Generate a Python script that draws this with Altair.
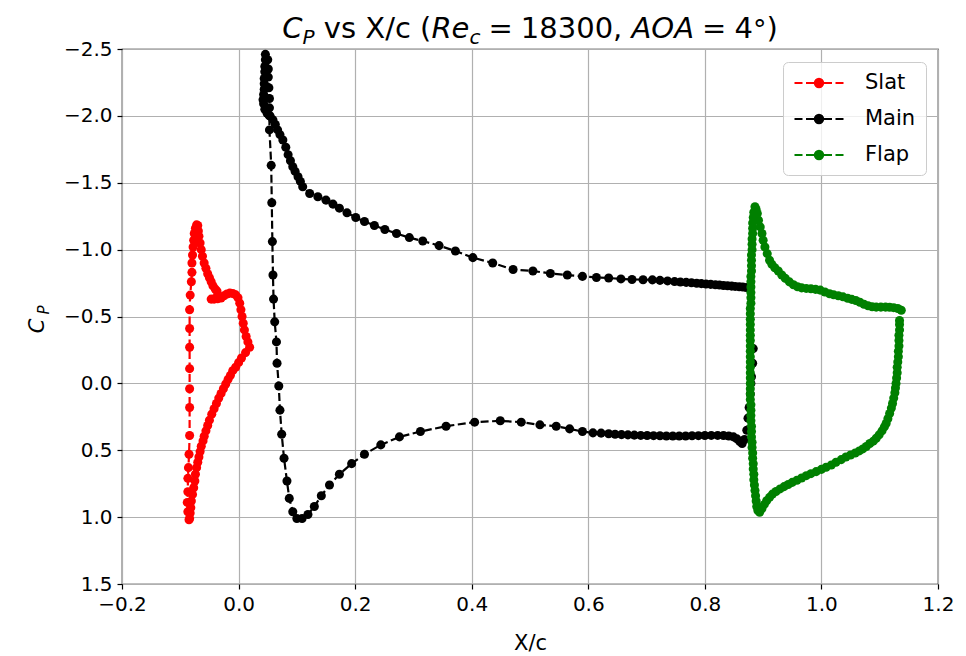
import altair as alt
import pandas as pd

# ---------------- data ----------------
series_names = ["Slat", "Main", "Flap"]
series_colors = ["#ff0000", "#000000", "#008000"]

slat_x = [-0.085, -0.087, -0.088, -0.087, -0.087, -0.086, -0.085, -0.084, -0.084, -0.084,
          -0.084, -0.084, -0.084, -0.084, -0.083, -0.081, -0.080, -0.080, -0.079, -0.078,
          -0.077, -0.076, -0.074, -0.072,
          -0.070, -0.069, -0.068, -0.066, -0.064, -0.062, -0.059, -0.056, -0.053, -0.050,
          -0.047, -0.044, -0.040, -0.037,
          -0.047, -0.042, -0.036, -0.030,
          -0.025, -0.020, -0.015, -0.010, -0.005, -0.001, 0.002, 0.004, 0.006, 0.008,
          0.010, 0.013, 0.016, 0.019,
          0.012, 0.005, 0.000, -0.005, -0.010, -0.014, -0.018, -0.022, -0.026, -0.030,
          -0.034, -0.038, -0.042, -0.046, -0.050, -0.053, -0.056, -0.059, -0.061, -0.064,
          -0.066, -0.068, -0.070, -0.072, -0.074, -0.075, -0.077, -0.079, -0.081, -0.082,
          -0.083, -0.084]
slat_cp = [1.02, 0.96, 0.89, 0.81, 0.71, 0.63, 0.53, 0.39, 0.18, 0.04,
           -0.11, -0.27, -0.41, -0.55, -0.66, -0.76, -0.83, -0.90, -0.96, -1.02,
           -1.07, -1.12, -1.16, -1.185,
           -1.18, -1.14, -1.10, -1.05, -1.00, -0.95, -0.90, -0.86, -0.82, -0.79,
           -0.76, -0.73, -0.705, -0.69,
           -0.63, -0.63, -0.632, -0.638,
           -0.655, -0.668, -0.675, -0.672, -0.662, -0.64, -0.60, -0.55, -0.50, -0.45,
           -0.40, -0.35, -0.31, -0.27,
           -0.23, -0.19, -0.155, -0.12, -0.095, -0.06, -0.03, 0.005, 0.04, 0.075,
           0.11, 0.15, 0.19, 0.23, 0.275, 0.315, 0.355, 0.395, 0.43, 0.47,
           0.51, 0.55, 0.59, 0.63, 0.68, 0.73, 0.78, 0.83, 0.88, 0.93,
           0.97, 1.01]

main_x = [0.871, 0.865, 0.859, 0.852, 0.846, 0.839, 0.832, 0.825, 0.818, 0.810,
          0.802, 0.794, 0.786, 0.777, 0.768, 0.758, 0.748, 0.736, 0.723, 0.710,
          0.694, 0.675, 0.656, 0.635, 0.614, 0.590, 0.564, 0.535, 0.505, 0.471,
          0.436, 0.402, 0.372, 0.344, 0.316, 0.293, 0.271, 0.251, 0.233, 0.216,
          0.201, 0.186, 0.173, 0.162, 0.150, 0.136, 0.122, 0.110, 0.106, 0.102,
          0.097, 0.093, 0.089, 0.085, 0.081, 0.076, 0.071, 0.067, 0.063, 0.059,
          0.054, 0.049, 0.045,
          0.043, 0.042, 0.043, 0.044, 0.044, 0.044, 0.045, 0.045, 0.046, 0.046,
          0.050, 0.051, 0.051, 0.052, 0.053, 0.053, 0.053, 0.053,
          0.056, 0.057, 0.058, 0.059, 0.060, 0.062, 0.065, 0.066, 0.069, 0.071,
          0.074, 0.078, 0.083, 0.087, 0.093, 0.100, 0.109, 0.119, 0.130, 0.142,
          0.156, 0.173, 0.194, 0.216, 0.244, 0.276, 0.312, 0.356, 0.405, 0.449,
          0.485, 0.517, 0.545, 0.568, 0.590, 0.608, 0.622, 0.635,
          0.646, 0.657, 0.668, 0.679, 0.690, 0.701, 0.712, 0.723, 0.734, 0.745,
          0.756, 0.767, 0.778, 0.789, 0.800, 0.811, 0.822, 0.832, 0.841, 0.849,
          0.855, 0.860, 0.864, 0.868, 0.872, 0.874, 0.876, 0.878, 0.879, 0.880,
          0.882, 0.883]
main_cp = [-0.717, -0.720, -0.722, -0.725, -0.727, -0.730, -0.732, -0.735, -0.737, -0.740,
           -0.743, -0.746, -0.749, -0.752, -0.755, -0.758, -0.761, -0.766, -0.770, -0.774,
           -0.775, -0.777, -0.781, -0.788, -0.792, -0.800, -0.810, -0.822, -0.840, -0.851,
           -0.900, -0.940, -0.990, -1.030, -1.064, -1.090, -1.120, -1.150, -1.180, -1.210,
           -1.240, -1.275, -1.310, -1.340, -1.370, -1.395, -1.420, -1.470, -1.510, -1.545,
           -1.585, -1.620, -1.665, -1.710, -1.765, -1.820, -1.860, -1.895, -1.935, -1.970,
           -2.000, -2.020, -2.050,
           -2.09, -2.12, -2.16, -2.20, -2.24, -2.28, -2.33, -2.37, -2.42, -2.46,
           -2.42, -2.35, -2.29, -2.21, -2.13, -2.06, -2.00, -1.895,
           -1.63, -1.35, -1.06, -0.81, -0.63, -0.46, -0.31, -0.15, 0.02, 0.20,
           0.38, 0.56, 0.73, 0.86, 0.96, 1.01, 1.01, 0.98, 0.92, 0.84,
           0.76, 0.68, 0.60, 0.53, 0.46, 0.40, 0.36, 0.32, 0.29, 0.28,
           0.29, 0.31, 0.32, 0.34, 0.36, 0.37, 0.372, 0.377,
           0.380, 0.383, 0.385, 0.387, 0.389, 0.390, 0.391, 0.392, 0.393, 0.393,
           0.393, 0.393, 0.392, 0.391, 0.390, 0.389, 0.389, 0.390, 0.393, 0.400,
           0.415, 0.435, 0.450, 0.420, 0.350, 0.260, 0.180, 0.080, 0.000, -0.050,
           -0.150, -0.260]

flap_x = [1.137, 1.131, 1.124, 1.117, 1.110, 1.102, 1.094, 1.087, 1.080, 1.073,
          1.066, 1.059, 1.052, 1.045, 1.037, 1.029, 1.021, 1.014, 1.006, 0.998,
          0.990, 0.982, 0.974, 0.966, 0.959, 0.952, 0.945, 0.938, 0.932, 0.926,
          0.920, 0.915, 0.911, 0.907, 0.903, 0.900, 0.898, 0.895, 0.892, 0.890,
          0.888, 0.886,
          0.884, 0.883, 0.882, 0.882, 0.882, 0.881, 0.881, 0.881, 0.880, 0.880,
          0.880, 0.880, 0.879, 0.879, 0.879, 0.879, 0.879, 0.879, 0.878, 0.878,
          0.878, 0.878, 0.878, 0.878, 0.878, 0.878, 0.878, 0.878, 0.878, 0.878,
          0.878, 0.878, 0.878, 0.878, 0.878, 0.878, 0.879, 0.879, 0.879, 0.879,
          0.880, 0.880, 0.880, 0.881, 0.881, 0.882, 0.882, 0.883, 0.883, 0.884,
          0.884, 0.885, 0.886, 0.887, 0.888, 0.889, 0.891, 0.894,
          0.898, 0.902, 0.906, 0.911, 0.916, 0.922, 0.929, 0.936, 0.943, 0.950,
          0.958, 0.966, 0.974, 0.982, 0.991, 1.000, 1.008, 1.017, 1.025, 1.034,
          1.042, 1.050, 1.058, 1.065, 1.071, 1.077, 1.083, 1.089, 1.094, 1.099,
          1.104, 1.108, 1.111, 1.114, 1.117, 1.120, 1.122, 1.124, 1.126, 1.127,
          1.128, 1.129, 1.130, 1.130, 1.131, 1.132, 1.132, 1.133, 1.133, 1.133,
          1.134, 1.134, 1.134]
flap_cp = [-0.547, -0.560, -0.566, -0.569, -0.570, -0.570, -0.570, -0.573, -0.580, -0.592,
           -0.607, -0.620, -0.628, -0.636, -0.647, -0.655, -0.662, -0.670, -0.683, -0.697,
           -0.703, -0.707, -0.710, -0.714, -0.722, -0.737, -0.759, -0.785, -0.810, -0.840,
           -0.865, -0.890, -0.921, -0.970, -1.020, -1.070, -1.120, -1.170, -1.220, -1.270,
           -1.300, -1.320,
           -1.28, -1.24, -1.20, -1.16, -1.12, -1.08, -1.04, -1.00, -0.96, -0.92,
           -0.88, -0.84, -0.80, -0.76, -0.72, -0.68, -0.64, -0.60, -0.56, -0.52,
           -0.48, -0.44, -0.40, -0.36, -0.32, -0.28, -0.24, -0.20, -0.16, -0.12,
           -0.08, -0.04, 0.00, 0.04, 0.08, 0.12, 0.16, 0.20, 0.24, 0.28,
           0.32, 0.36, 0.40, 0.44, 0.48, 0.52, 0.56, 0.60, 0.64, 0.68,
           0.72, 0.76, 0.80, 0.84, 0.88, 0.92, 0.95, 0.964,
           0.935, 0.905, 0.878, 0.852, 0.828, 0.808, 0.789, 0.772, 0.756, 0.740,
           0.724, 0.707, 0.690, 0.675, 0.660, 0.643, 0.627, 0.610, 0.590, 0.570,
           0.550, 0.535, 0.520, 0.505, 0.490, 0.472, 0.450, 0.432, 0.410, 0.385,
           0.355, 0.325, 0.300, 0.265, 0.225, 0.185, 0.150, 0.110, 0.070, 0.035,
           0.000, -0.04, -0.08, -0.12, -0.16, -0.20, -0.24, -0.28, -0.32, -0.36,
           -0.40, -0.44, -0.47]

x_ticks = [-0.2, 0.0, 0.2, 0.4, 0.6, 0.8, 1.0, 1.2]
y_ticks = [-2.5, -2.0, -1.5, -1.0, -0.5, 0.0, 0.5, 1.0, 1.5]

# title pieces: (text, italic, role, space before in em)
title_parts = [("C", True, "normal", 0.0), ("P", True, "sub", 0.0),
               ("vs X/c (", False, "normal", 0.318), ("Re", True, "normal", 0.0),
               ("c", True, "sub", 0.0), ("=", False, "rel", 0.0),
               ("18300,", False, "normal", 0.0), ("AOA", True, "normal", 0.318),
               ("=", False, "rel", 0.0), ("4", False, "normal", 0.0),
               ("°", False, "sup", 0.0), (")", False, "normal", 0.0)]

# ---------------- layout helpers ----------------
FONT = "DejaVu Sans"
TITLE_SIZE = 29
SUB_SIZE = 20
SUP_SIZE = 27
GLYPH_EM = {'C': 0.698, 'P': 0.603, ' ': 0.318, 'v': 0.592, 's': 0.521, 'X': 0.685,
            '/': 0.337, 'c': 0.550, '(': 0.390, 'R': 0.695, 'e': 0.615, '=': 0.838,
            '1': 0.636, '8': 0.636, '3': 0.636, '0': 0.636, ',': 0.318, 'A': 0.684,
            'O': 0.787, '4': 0.636, '°': 0.500, ')': 0.390}
REL_SPACE = 0.278

placed = []
cursor = 0.0
for txt, ital, role, pre in title_parts:
    size = SUB_SIZE if role == "sub" else (SUP_SIZE if role == "sup" else TITLE_SIZE)
    cursor += pre * TITLE_SIZE
    if role == "rel":
        cursor += REL_SPACE * TITLE_SIZE
    placed.append((txt, ital, role, size, cursor))
    cursor += sum(GLYPH_EM[ch] for ch in txt) * size
    if role == "rel":
        cursor += REL_SPACE * TITLE_SIZE
title_width = cursor
PLOT_W, PLOT_H = 816, 535
title_start = PLOT_W / 2 - title_width / 2
TITLE_BASE = -11.5

# ---------------- build ----------------
frames = []
for name, xs, cs in [("Slat", slat_x, slat_cp), ("Main", main_x, main_cp), ("Flap", flap_x, flap_cp)]:
    frames.append(pd.DataFrame({"x": xs, "cp": cs, "series": name, "idx": list(range(len(xs)))}))
df = pd.concat(frames, ignore_index=True)

legend_path = ("M-2.45,0L-1.65,0M-1.3,0L-0.5,0M0.5,0L1.3,0M1.65,0L2.45,0"
               "M-0.42,0A0.42,0.42 0 1,0 0.42,0A0.42,0.42 0 1,0 -0.42,0Z")

color = alt.Color(
    "series:N",
    scale=alt.Scale(domain=series_names, range=series_colors),
    legend=alt.Legend(
        title=None, orient="none", legendX=661, legendY=13,
        symbolType=legend_path, symbolSize=400, symbolStrokeWidth=2,
        labelFontSize=21, labelFont=FONT, labelColor="black",
        fillColor="rgba(255,255,255,0.8)", strokeColor="#cccccc",
        cornerRadius=5, padding=10, rowPadding=15, labelOffset=35, symbolOffset=15,
    ),
)
x_enc = alt.X("x:Q", scale=alt.Scale(domain=[-0.2, 1.2], nice=False, zero=False),
              axis=alt.Axis(values=x_ticks, format=".1f", title="X/c", labelFlush=False,
                            titlePadding=18))
y_enc = alt.Y("cp:Q", scale=alt.Scale(domain=[-2.5, 1.5], reverse=True, nice=False, zero=False),
              axis=alt.Axis(values=y_ticks, format=".1f", title=None))

layers = []
for name in series_names:
    base = alt.Chart(df).transform_filter(alt.datum.series == name)
    layers.append(base.mark_line(strokeDash=[8, 3.5], strokeWidth=2.2, clip=True).encode(
        x=x_enc, y=y_enc, color=color, order="idx:Q"))
    layers.append(base.mark_circle(size=82, opacity=1, clip=True).encode(
        x=x_enc, y=y_enc, color=color))

one = pd.DataFrame({"a": [0]})
for txt, ital, role, size, left in placed:
    dy = 6 if role == "sub" else (1 if role == "sup" else 0)
    layers.append(alt.Chart(one).mark_text(
        text=txt, font=FONT, fontSize=size,
        fontStyle="italic" if ital else "normal", align="left", baseline="alphabetic",
        color="black").encode(x=alt.value(title_start + left), y=alt.value(TITLE_BASE + dy)))

# y axis label C_P
layers.append(alt.Chart(one).mark_text(text="C", font=FONT, fontSize=21, fontStyle="italic",
                                       angle=270, align="center", baseline="alphabetic",
                                       color="black").encode(x=alt.value(-78), y=alt.value(277)))
layers.append(alt.Chart(one).mark_text(text="P", font=FONT, fontSize=15, fontStyle="italic",
                                       angle=270, align="center", baseline="alphabetic",
                                       color="black").encode(x=alt.value(-73), y=alt.value(261)))

chart = alt.layer(*layers).properties(
    width=PLOT_W, height=PLOT_H,
    autosize=alt.AutoSizeParams(type="none"),
    padding={"left": 122, "top": 49, "right": 28, "bottom": 72},
).configure(font=FONT).configure_view(
    stroke="black", strokeWidth=1.2
).configure_axis(
    labelFont=FONT, labelFontSize=20, labelColor="black", labelPadding=5,
    tickSize=5, tickWidth=1.2, tickColor="black", domain=False,
    grid=True, gridColor="#b0b0b0", gridWidth=1.2,
    titleFont=FONT, titleFontSize=21, titleFontWeight="normal", titleColor="black",
)

chart.save("out.html", embed_options={"renderer": "svg", "actions": False})
